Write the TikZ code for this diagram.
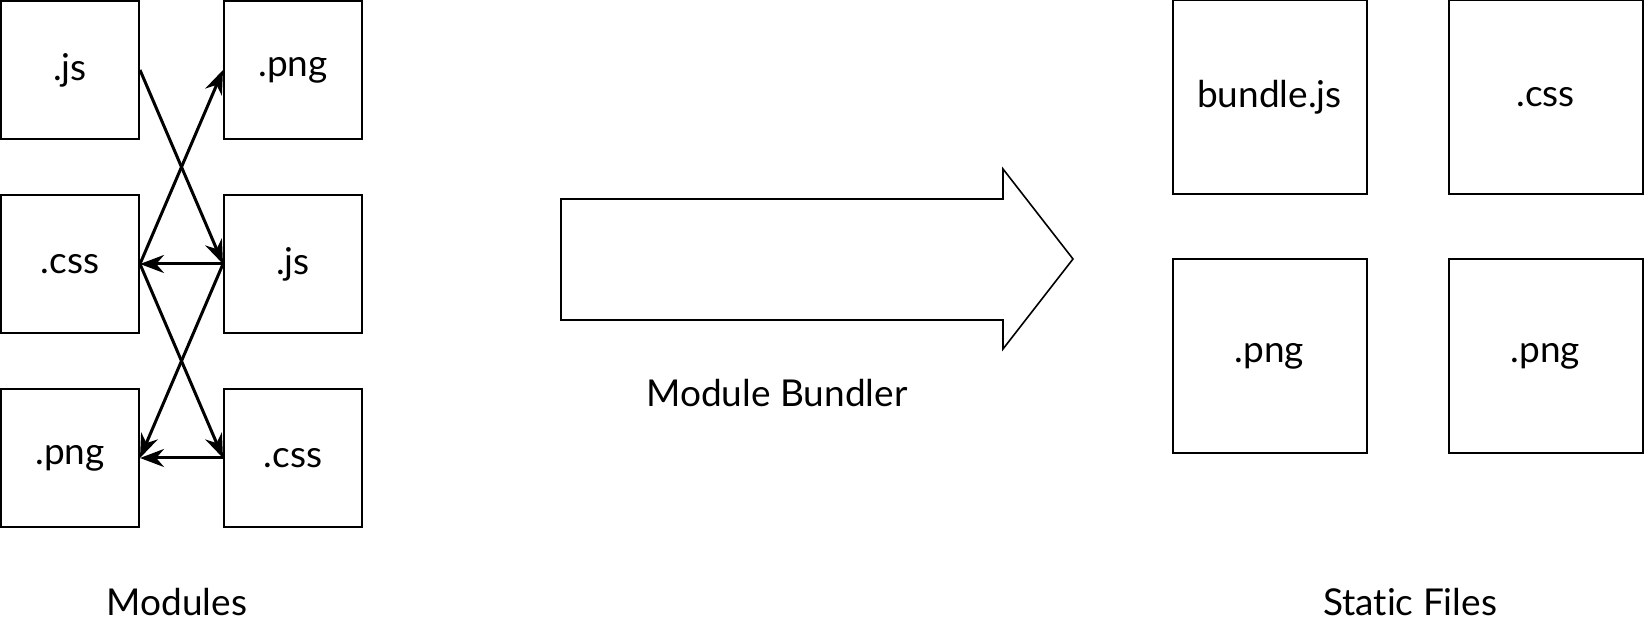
\documentclass[tikz,border=0pt]{standalone}
\usepackage{fontspec}
\setmainfont{Lato}[Ligatures=NoCommon]
\usetikzlibrary{arrows.meta}

\begin{document}
\begin{tikzpicture}[
		x=0.5pt, y=-0.5pt,
		every node/.style={font=\fontsize{18.5}{22}\selectfont},
		box/.style={rectangle, draw, line width=1pt, minimum size=69pt, inner sep=0pt},
		bigbox/.style={box, minimum size=97pt},
		conn/.style={-{Stealth[length=12pt, width=9pt]}, line width=1.5pt}
	]
  \useasboundingbox (0,0) rectangle (1644,625);

  % modules
  \node (js1) [box] at (70,70) {.js};
  \node (png1) [box] at (293,70) {.png};
  \node (css1) [box] at (70,264) {.css};
  \node (js2) [box] at (293,264) {.js};
  \node (png2) [box] at (70,458) {.png};
  \node (css2) [box] at (293,458) {.css};
  \node (modules) at (177,602) {Modules};

  \draw[conn] (js1.east) -- (js2.west);
  \draw[conn] (css1.east) -- (png1.west);
  \draw[conn] (js2.west) -- (css1.east);
  \draw[conn] (js2.west) -- (png2.east);
  \draw[conn] (css1.east) -- (css2.west);
  \draw[conn] (css2.west) -- (png2.east);

  % bundler
  \draw[line width=0.8pt] (561,199) -- (1003,199) -- (1003,169) -- (1073,259)
    -- (1003,349) -- (1003,320) -- (561,320) -- cycle;
  \node (bundler) at (777,393) {Module Bundler};

  % static files
  \node (bundle) [bigbox] at (1269.5,97.5) {bundle.js};
  \node (css3) [bigbox] at (1545.5,97.5) {.css};
  \node (png3) [bigbox] at (1269.5,356.5) {.png};
  \node (png4) [bigbox] at (1545.5,356.5) {.png};
  \node (static) at (1410,602) {Static Files};
\end{tikzpicture}
\end{document}
